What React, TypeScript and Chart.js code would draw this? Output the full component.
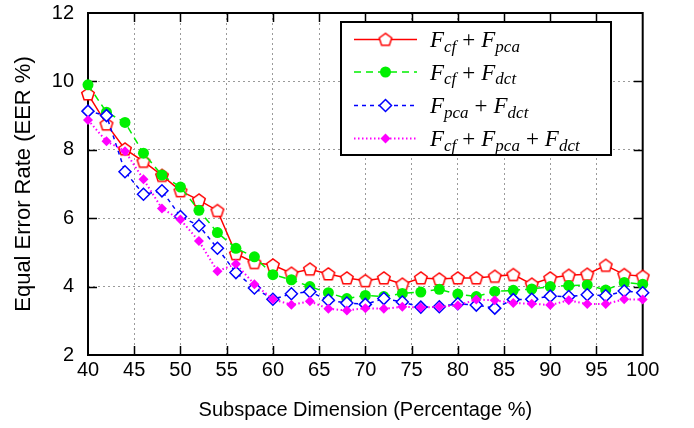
import React, { useEffect, useRef } from "react";
import { Chart, registerables } from "chart.js";

Chart.register(...registerables);

const dims = [40, 42, 44, 46, 48, 50, 52, 54, 56, 58, 60, 62, 64, 66, 68, 70, 72, 74, 76, 78, 80, 82, 84, 86, 88, 90, 92, 94, 96, 98, 100];

const cfPca = [9.63, 8.75, 8.02, 7.66, 7.25, 6.8, 6.53, 6.22, 4.96, 4.7, 4.63, 4.39, 4.51, 4.37, 4.25, 4.17, 4.25, 4.07, 4.25, 4.22, 4.25, 4.25, 4.3, 4.35, 4.07, 4.25, 4.33, 4.36, 4.62, 4.35, 4.3];
const cfDct = [9.9, 9.1, 8.8, 7.9, 7.26, 6.91, 6.23, 5.58, 5.12, 4.87, 4.35, 4.2, 4.0, 3.82, 3.65, 3.74, 3.71, 3.8, 3.84, 3.92, 3.78, 3.71, 3.86, 3.89, 3.93, 4.0, 4.03, 4.05, 3.9, 4.12, 4.07];
const pcaDct = [9.13, 9.0, 7.36, 6.7, 6.8, 6.05, 5.78, 5.12, 4.41, 3.96, 3.63, 3.79, 3.85, 3.6, 3.52, 3.48, 3.65, 3.55, 3.4, 3.41, 3.5, 3.46, 3.37, 3.62, 3.63, 3.72, 3.71, 3.76, 3.73, 3.87, 3.82];
const cfPcaDct = [8.87, 8.25, 7.96, 7.14, 6.28, 5.96, 5.33, 4.45, 4.66, 4.07, 3.63, 3.47, 3.57, 3.35, 3.3, 3.37, 3.35, 3.41, 3.39, 3.41, 3.45, 3.62, 3.6, 3.52, 3.5, 3.46, 3.6, 3.49, 3.49, 3.63, 3.62];

// legend labels: pairs of [main symbol, subscript]
const legendTerms: [string, string][][] = [
  [["F", "cf"], ["F", "pca"]],
  [["F", "cf"], ["F", "dct"]],
  [["F", "pca"], ["F", "dct"]],
  [["F", "cf"], ["F", "pca"], ["F", "dct"]],
];

const xTitle = "Subspace Dimension (Percentage %)";
const yTitle = "Equal Error Rate (EER %)";

function makePentagon(color: string): HTMLCanvasElement {
  const c = document.createElement("canvas");
  c.width = 18;
  c.height = 18;
  const g = c.getContext("2d")!;
  g.strokeStyle = color;
  g.lineWidth = 1.5;
  g.beginPath();
  const r = 6.6;
  for (let i = 0; i < 5; i++) {
    const a = -Math.PI / 2 + (i * 2 * Math.PI) / 5;
    const px = 9 + r * Math.cos(a);
    const py = 9.5 + r * Math.sin(a);
    if (i === 0) g.moveTo(px, py);
    else g.lineTo(px, py);
  }
  g.closePath();
  g.fillStyle = "#ffffff";
  g.fill();
  g.stroke();
  return c;
}

export default function App() {
  const ref = useRef<HTMLCanvasElement | null>(null);

  useEffect(() => {
    if (!ref.current) return;
    const pent = makePentagon("#ff0000");

    const seriesStyles = [
      { color: "#ff0000", dash: [] as number[], width: 1.5, pointStyle: pent as any, radius: 7, fill: false, order: 4 },
      { color: "#00f000", dash: [7, 5], width: 1.5, pointStyle: "circle", radius: 5.5, fill: true, order: 3 },
      { color: "#0000ff", dash: [4, 4], width: 1.5, pointStyle: "rectRot", radius: 6, fill: false, order: 2 },
      { color: "#ff00ff", dash: [1.5, 2.5], width: 2, pointStyle: "rectRot", radius: 5, fill: true, order: 1 },
    ];
    const seriesData = [cfPca, cfDct, pcaDct, cfPcaDct];

    const framePlugin = {
      id: "frame",
      beforeDatasetsDraw(chart: any) {
        const { ctx, chartArea } = chart;
        const { left, right, top, bottom } = chartArea;
        const xs = chart.scales.x;
        const ys = chart.scales.y;
        ctx.save();
        ctx.strokeStyle = "#000";
        ctx.lineWidth = 1.5;
        ctx.beginPath();
        for (const t of xs.ticks) {
          const px = Math.round(xs.getPixelForValue(t.value)) + 0.5;
          if (px <= left + 2 || px >= right - 2) continue;
          ctx.moveTo(px, bottom);
          ctx.lineTo(px, bottom - 9);
          ctx.moveTo(px, top);
          ctx.lineTo(px, top + 9);
        }
        for (const t of ys.ticks) {
          const py = Math.round(ys.getPixelForValue(t.value)) + 0.5;
          if (py <= top + 2 || py >= bottom - 2) continue;
          ctx.moveTo(left, py);
          ctx.lineTo(left + 9, py);
          ctx.moveTo(right, py);
          ctx.lineTo(right - 9, py);
        }
        ctx.stroke();
        ctx.lineWidth = 2;
        ctx.strokeRect(left, top, right - left, bottom - top);
        ctx.restore();
      },
      afterDraw(chart: any) {
        const { ctx } = chart;
        ctx.save();
        const bx = 341, by = 22, bw = 270, bh = 133;
        ctx.fillStyle = "#fff";
        ctx.fillRect(bx, by, bw, bh);
        ctx.strokeStyle = "#000";
        ctx.lineWidth = 2;
        ctx.strokeRect(bx, by, bw, bh);
        const rowsY = [39.5, 72, 105.5, 138.5];
        legendTerms.forEach((terms, i) => {
          const st = seriesStyles[i];
          const y = rowsY[i];
          ctx.save();
          ctx.strokeStyle = st.color;
          ctx.lineWidth = st.width;
          ctx.setLineDash(st.dash);
          ctx.beginPath();
          ctx.moveTo(354, y);
          ctx.lineTo(417, y);
          ctx.stroke();
          ctx.restore();
          // marker
          const mx = 385.5;
          ctx.save();
          if (st.pointStyle === pent) {
            ctx.drawImage(pent, mx - 9, y - 9);
          } else if (st.pointStyle === "circle") {
            ctx.fillStyle = st.color;
            ctx.beginPath();
            ctx.arc(mx, y, st.radius, 0, Math.PI * 2);
            ctx.fill();
          } else {
            ctx.beginPath();
            ctx.moveTo(mx, y - st.radius);
            ctx.lineTo(mx + st.radius, y);
            ctx.lineTo(mx, y + st.radius);
            ctx.lineTo(mx - st.radius, y);
            ctx.closePath();
            if (st.fill) {
              ctx.fillStyle = st.color;
              ctx.fill();
            } else {
              ctx.fillStyle = "#fff";
              ctx.fill();
              ctx.strokeStyle = st.color;
              ctx.lineWidth = 1.5;
              ctx.stroke();
            }
          }
          ctx.restore();
          // math text
          let x = 430;
          const base = y + 7.5;
          ctx.fillStyle = "#000";
          ctx.textBaseline = "alphabetic";
          ctx.textAlign = "left";
          terms.forEach(([m, s], k) => {
            if (k > 0) {
              x += 6;
              ctx.font = '23px "Liberation Serif"';
              ctx.fillText("+", x, base);
              x += ctx.measureText("+").width + 6;
            }
            ctx.font = 'italic 23px "Liberation Serif"';
            ctx.fillText(m, x, base);
            x += ctx.measureText(m).width;
            ctx.font = 'italic 17px "Liberation Serif"';
            ctx.fillText(s, x, base + 4.5);
            x += ctx.measureText(s).width;
          });
        });
        ctx.restore();
      },
    };

    const chart = new Chart(ref.current, {
      type: "line",
      data: {
        datasets: seriesData.map((arr, i) => {
          const st = seriesStyles[i];
          return {
            label: legendTerms[i].map(([m, s]) => `${m}_${s}`).join(" + "),
            data: dims.map((d, j) => ({ x: d, y: arr[j] })),
            borderColor: st.color,
            borderWidth: st.width,
            borderDash: st.dash,
            backgroundColor: st.fill ? st.color : "#ffffff",
            pointStyle: st.pointStyle,
            pointRadius: st.radius,
            pointBorderColor: st.color,
            pointBackgroundColor: st.fill ? st.color : "#ffffff",
            pointBorderWidth: st.fill ? 0 : 1.5,
            tension: 0,
            fill: false,
            clip: false as any,
            order: st.order,
          };
        }),
      },
      options: {
        responsive: false,
        animation: false,
        events: [],
        layout: { padding: { left: 0, top: 13, right: 51.3, bottom: 0 } },
        plugins: { legend: { display: false }, tooltip: { enabled: false } },
        scales: {
          x: {
            type: "linear",
            min: 40,
            max: 100,
            ticks: {
              stepSize: 5,
              padding: 3,
              color: "#000",
              font: { family: '"Liberation Sans", Arial, sans-serif', size: 20 },
              maxRotation: 0,
            },
            grid: { color: "#9a9a9a", lineWidth: 1, drawTicks: false },
            border: { display: false, dash: [2, 3] },
            title: {
              display: true,
              text: xTitle,
              color: "#000",
              font: { family: '"Liberation Sans", Arial, sans-serif', size: 20 },
              padding: { top: 0, bottom: 6 },
            },
            afterFit: (s: any) => {
              s.height = 73;
              s.paddingLeft = 0;
              s.paddingRight = 0;
            },
          },
          y: {
            min: 2,
            max: 12,
            ticks: {
              stepSize: 2,
              padding: 14,
              color: "#000",
              font: { family: '"Liberation Sans", Arial, sans-serif', size: 20 },
            },
            grid: { color: "#9a9a9a", lineWidth: 1, drawTicks: false },
            border: { display: false, dash: [2, 3] },
            title: {
              display: true,
              text: yTitle,
              color: "#000",
              font: { family: '"Liberation Sans", Arial, sans-serif', size: 22 },
              padding: { top: 11, bottom: 0 },
            },
            afterFit: (s: any) => {
              s.width = 88;
              s.paddingTop = 0;
              s.paddingBottom = 0;
            },
          },
        },
      },
      plugins: [framePlugin],
    });
    return () => chart.destroy();
  }, []);

  return (
    <div style={{ position: "absolute", left: 0, top: 0, width: 694, height: 428, background: "#fff" }}>
      <canvas ref={ref} width={694} height={428} style={{ display: "block" }} />
    </div>
  );
}
